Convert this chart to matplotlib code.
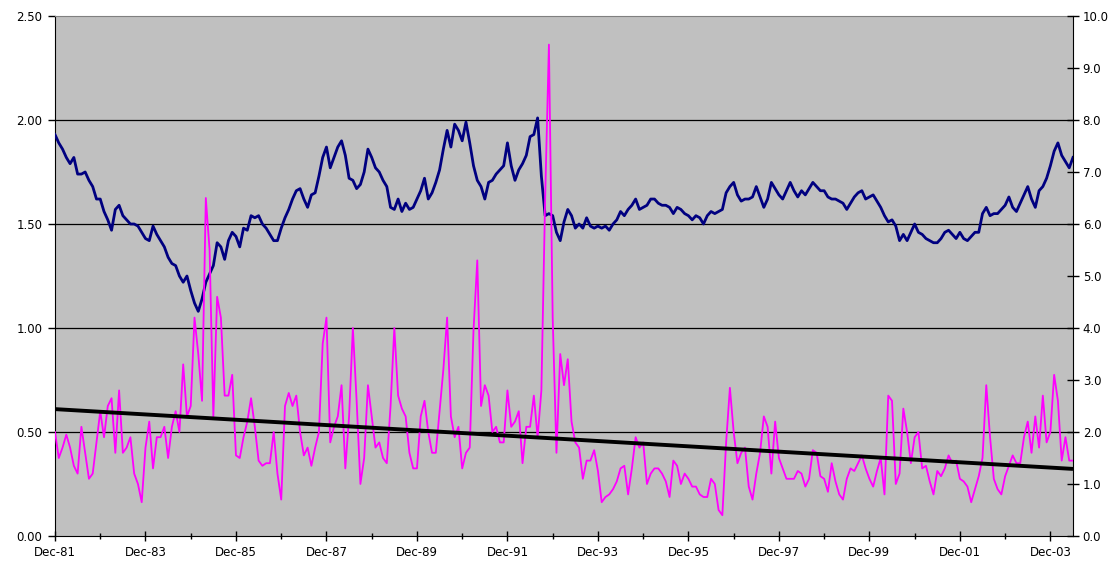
import numpy as np
import matplotlib
matplotlib.use("Agg")
import matplotlib.pyplot as plt
from matplotlib.ticker import FixedLocator, FormatStrFormatter

# Monthly series starting Dec-1981 (one value per month)
exchange_rate = [
    1.93, 1.89, 1.86, 1.82, 1.79, 1.82, 1.74, 1.74, 1.75, 1.71,
    1.68, 1.62, 1.62, 1.56, 1.52, 1.47, 1.57, 1.59, 1.54, 1.52,
    1.50, 1.50, 1.49, 1.46, 1.43, 1.42, 1.49, 1.45, 1.42, 1.39,
    1.34, 1.31, 1.30, 1.25, 1.22, 1.25, 1.18, 1.12, 1.08, 1.14,
    1.22, 1.26, 1.30, 1.41, 1.39, 1.33, 1.42, 1.46, 1.44, 1.39,
    1.48, 1.47, 1.54, 1.53, 1.54, 1.50, 1.48, 1.45, 1.42, 1.42,
    1.48, 1.53, 1.57, 1.62, 1.66, 1.67, 1.62, 1.58, 1.64, 1.65,
    1.73, 1.82, 1.87, 1.77, 1.82, 1.87, 1.90, 1.83, 1.72, 1.71,
    1.67, 1.69, 1.75, 1.86, 1.82, 1.77, 1.75, 1.71, 1.68, 1.58,
    1.57, 1.62, 1.56, 1.60, 1.57, 1.58, 1.62, 1.66, 1.72, 1.62,
    1.65, 1.70, 1.76, 1.86, 1.95, 1.87, 1.98, 1.95, 1.90, 1.99,
    1.89, 1.78, 1.71, 1.68, 1.62, 1.70, 1.71, 1.74, 1.76, 1.78,
    1.89, 1.78, 1.71, 1.76, 1.79, 1.83, 1.92, 1.93, 2.01, 1.73,
    1.54, 1.55, 1.54, 1.46, 1.42, 1.51, 1.57, 1.54, 1.48, 1.50,
    1.48, 1.53, 1.49, 1.48, 1.49, 1.48, 1.49, 1.47, 1.50, 1.52,
    1.56, 1.54, 1.57, 1.59, 1.62, 1.57, 1.58, 1.59, 1.62, 1.62,
    1.60, 1.59, 1.59, 1.58, 1.55, 1.58, 1.57, 1.55, 1.54, 1.52,
    1.54, 1.53, 1.50, 1.54, 1.56, 1.55, 1.56, 1.57, 1.65, 1.68,
    1.70, 1.64, 1.61, 1.62, 1.62, 1.63, 1.68, 1.63, 1.58, 1.62,
    1.70, 1.67, 1.64, 1.62, 1.66, 1.70, 1.66, 1.63, 1.66, 1.64,
    1.67, 1.70, 1.68, 1.66, 1.66, 1.63, 1.62, 1.62, 1.61, 1.60,
    1.57, 1.60, 1.63, 1.65, 1.66, 1.62, 1.63, 1.64, 1.61, 1.58,
    1.54, 1.51, 1.52, 1.49, 1.42, 1.45, 1.42, 1.46, 1.50, 1.46,
    1.45, 1.43, 1.42, 1.41, 1.41, 1.43, 1.46, 1.47, 1.45, 1.43,
    1.46, 1.43, 1.42, 1.44, 1.46, 1.46, 1.55, 1.58, 1.54, 1.55,
    1.55, 1.57, 1.59, 1.63, 1.58, 1.56, 1.60, 1.64, 1.68, 1.62,
    1.58, 1.66, 1.68, 1.72, 1.78, 1.85, 1.89, 1.83, 1.80, 1.77,
    1.82,
]

volatility = [
    2.0, 1.5, 1.7, 1.95, 1.7, 1.35, 1.2, 2.1, 1.6, 1.1,
    1.2, 1.8, 2.4, 1.9, 2.5, 2.65, 1.6, 2.8, 1.6, 1.7,
    1.9, 1.2, 1.0, 0.65, 1.7, 2.2, 1.3, 1.9, 1.9, 2.1,
    1.5, 2.1, 2.4, 2.0, 3.3, 2.3, 2.5, 4.2, 3.5, 2.6,
    6.5, 5.5, 2.3, 4.6, 4.2, 2.7, 2.7, 3.1, 1.55, 1.5,
    1.9, 2.2, 2.65, 2.1, 1.45, 1.35, 1.4, 1.4, 2.0, 1.2,
    0.7, 2.5, 2.75, 2.5, 2.7, 2.0, 1.55, 1.7, 1.35, 1.7,
    2.0, 3.7, 4.2, 1.8, 2.1, 2.3, 2.9, 1.3, 2.3, 4.0,
    2.6, 1.0, 1.5, 2.9, 2.3, 1.7, 1.8, 1.5, 1.4, 2.5,
    4.0, 2.7, 2.45, 2.3, 1.6, 1.3, 1.3, 2.3, 2.6, 2.0,
    1.6, 1.6, 2.4, 3.2, 4.2, 2.3, 1.9, 2.1, 1.3, 1.6,
    1.7, 3.96, 5.3, 2.5, 2.9, 2.7, 2.0, 2.1, 1.8, 1.8,
    2.8, 2.1, 2.2, 2.4, 1.4, 2.1, 2.1, 2.7, 1.9, 2.8,
    6.5, 9.45, 4.2, 1.6, 3.5, 2.9, 3.4, 2.2, 1.8, 1.7,
    1.1, 1.45, 1.45, 1.65, 1.25, 0.65, 0.75, 0.8, 0.9, 1.05,
    1.3, 1.35, 0.8, 1.3, 1.9, 1.7, 1.8, 1.0, 1.2, 1.3,
    1.3, 1.2, 1.05, 0.75, 1.45, 1.35, 1.0, 1.2, 1.1, 0.95,
    0.95, 0.8, 0.75, 0.75, 1.1, 1.0, 0.5, 0.4, 1.8, 2.85,
    2.0, 1.4, 1.6, 1.7, 0.95, 0.7, 1.2, 1.6, 2.3, 2.1,
    1.2, 2.2, 1.5, 1.3, 1.1, 1.1, 1.1, 1.25, 1.2, 0.95,
    1.1, 1.65, 1.6, 1.15, 1.1, 0.85, 1.4, 1.05, 0.8, 0.7,
    1.1, 1.3, 1.25, 1.4, 1.55, 1.3, 1.1, 0.95, 1.25, 1.5,
    0.8, 2.7, 2.6, 1.0, 1.2, 2.45, 2.0, 1.4, 1.9, 2.0,
    1.3, 1.35, 1.05, 0.8, 1.25, 1.15, 1.3, 1.55, 1.4, 1.45,
    1.1, 1.05, 0.95, 0.65, 0.9, 1.15, 1.5, 2.9, 1.9, 1.1,
    0.9, 0.8, 1.15, 1.35, 1.55, 1.4, 1.4, 1.9, 2.2, 1.6,
    2.3, 1.7, 2.7, 1.8, 2.0, 3.1, 2.6, 1.45, 1.9, 1.45,
    1.45,
]

trend_ends = [2.44, 1.29]  # trend line start / end (right axis)

tick_labels = ["Dec-81", "Dec-83", "Dec-85", "Dec-87", "Dec-89", "Dec-91",
               "Dec-93", "Dec-95", "Dec-97", "Dec-99", "Dec-01", "Dec-03"]
left_ticks = [0.0, 0.5, 1.0, 1.5, 2.0, 2.5]
right_ticks = [0, 1, 2, 3, 4, 5, 6, 7, 8, 9, 10]

plt.rcParams['font.family'] = ['DejaVu Sans']

fig = plt.figure(figsize=(11.2, 5.63), dpi=100)
ax = fig.add_axes([55 / 1120, 27 / 563, (1073 - 55) / 1120, (536 - 16) / 563])
ax.set_facecolor('#C0C0C0')

months = np.arange(len(exchange_rate))
n_last = len(exchange_rate) - 1

ax.set_xlim(0, n_last)
ax.set_ylim(0, 2.5)
ax.yaxis.set_major_locator(FixedLocator(left_ticks))
ax.yaxis.set_major_formatter(FormatStrFormatter('%.2f'))
for v in left_ticks[1:-1]:
    ax.axhline(v, color='black', lw=0.9, zorder=1)

ax.plot(months, exchange_rate, color='#000080', lw=2.0, zorder=3)

major = np.arange(0, len(exchange_rate), 24)
ax.set_xticks(major)
ax.set_xticklabels(tick_labels[:len(major)])
ax.set_xticks(np.arange(12, len(exchange_rate), 24), minor=True)

ax.tick_params(axis='x', which='major', direction='inout', length=7, width=1,
               labelsize=8.5, pad=4)
ax.tick_params(axis='x', which='minor', direction='inout', length=4, width=1)
ax.tick_params(axis='y', which='major', direction='out', length=5, width=1,
               labelsize=8.5, pad=4)

for s in ['left', 'bottom']:
    ax.spines[s].set_color('black')
ax.spines['top'].set_color('#808080')
ax.spines['right'].set_visible(False)

ax2 = ax.twinx()
ax2.set_ylim(0, 10)
ax2.yaxis.set_major_locator(FixedLocator(right_ticks))
ax2.yaxis.set_major_formatter(FormatStrFormatter('%.1f'))
ax2.plot(months, volatility, color='#FF00FF', lw=1.3, zorder=3)
ax2.plot([months[0], months[-1]], trend_ends, color='black', lw=2.8,
         solid_capstyle='butt', zorder=4)
ax2.tick_params(axis='y', which='major', direction='inout', length=8, width=1,
                labelsize=8.5, pad=3)
ax2.spines['right'].set_color('black')
ax2.spines['top'].set_visible(False)
ax2.spines['left'].set_visible(False)
ax2.spines['bottom'].set_visible(False)
ax2.patch.set_visible(False)

fig.savefig('out.png', dpi=100)
